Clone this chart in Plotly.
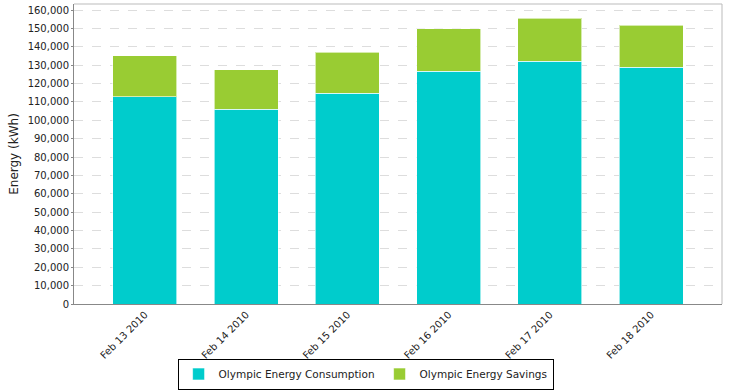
import plotly.graph_objects as go

categories = ["Feb 13 2010", "Feb 14 2010", "Feb 15 2010", "Feb 16 2010", "Feb 17 2010", "Feb 18 2010"]
consumption = [112800, 106100, 114700, 126800, 132100, 128800]
savings = [22200, 21400, 22300, 23000, 23400, 23000]
y_ticks = list(range(0, 160001, 10000))
y_tick_labels = [f"{v:,}" for v in y_ticks]

FONT = "DejaVu Sans"

fig = go.Figure()
fig.add_trace(go.Bar(
    x=categories, y=consumption, name="Olympic Energy Consumption",
    marker=dict(color="#00CCCC", line=dict(color="rgba(255,255,255,0.6)", width=1)),
    width=0.63,
))
fig.add_trace(go.Bar(
    x=categories, y=savings, name="Olympic Energy Savings",
    marker=dict(color="#99CC33", line=dict(color="rgba(255,255,255,0.6)", width=1)),
    width=0.63,
))

fig.update_layout(
    barmode="stack",
    width=730, height=390,
    margin=dict(l=74, r=8, t=4, b=86, autoexpand=False),
    paper_bgcolor="white", plot_bgcolor="white",
    font=dict(family=FONT, size=11, color="#222222"),
    showlegend=True,
    legend=dict(
        orientation="h", x=0.45, xanchor="center", y=-0.285, yanchor="bottom",
        bordercolor="black", borderwidth=1,
        font=dict(family=FONT, size=10.5, color="#222222"),
        itemwidth=30, traceorder="normal",
    ),
    xaxis=dict(
        type="category", range=[-0.70, 5.70], automargin=False,
        tickangle=-45, tickfont=dict(family=FONT, size=10),
        showline=True, linecolor="#888888", linewidth=1, mirror=False,
        showgrid=False, ticks="",
    ),
    yaxis=dict(
        range=[0, 163300], tickvals=y_ticks, ticktext=y_tick_labels, automargin=False,
        tickfont=dict(family=FONT, size=10),
        title=dict(text="Energy (kWh)", font=dict(family=FONT, size=12), standoff=6),
        showline=True, linecolor="#888888", linewidth=1, mirror=False,
        showgrid=True, gridcolor="#DDDDDD", griddash="dash", gridwidth=1,
        ticks="outside", ticklen=2, tickcolor="#888888",
        zeroline=False,
    ),
    shapes=[
        dict(type="line", xref="paper", yref="paper", x0=0, x1=1, y0=1, y1=1,
             line=dict(color="#BBBBBB", width=1)),
        dict(type="line", xref="paper", yref="paper", x0=1, x1=1, y0=0, y1=1,
             line=dict(color="#BBBBBB", width=1)),
    ],
)

fig.write_html("out.html", config={"displayModeBar": False},
               post_script="document.body.style.margin='0';")
